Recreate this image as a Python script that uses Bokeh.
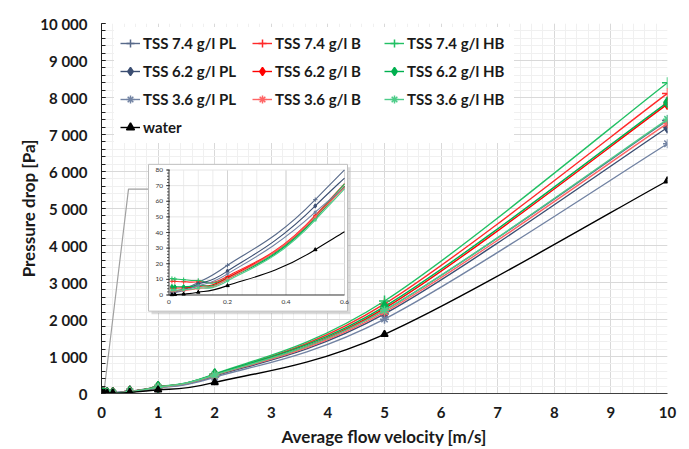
import numpy as np
from bokeh.plotting import figure
from bokeh.models import (ColumnDataSource, Legend, LegendItem, FixedTicker,
                          Range1d)
from bokeh.core.properties import value
from bokeh.embed import file_html
from bokeh.resources import INLINE

# ---------------- data ----------------
velocity = [0.01, 0.02, 0.05, 0.1, 0.2, 0.5, 1, 2, 5, 10]

tss74_pl = [2.0, 2.4, 4.0, 8.0, 19.0, 61.0, 175, 480, 2250, 7380]
tss74_b = [8.8, 8.7, 8.5, 8.5, 12.0, 51.0, 175, 510, 2420, 8110]
tss74_hb = [10.5, 10.2, 9.8, 9.3, 11.0, 50.0, 180, 530, 2500, 8400]
tss62_pl = [1.5, 2.0, 3.3, 7.0, 15.3, 57.0, 165, 470, 2150, 7190]
tss62_b = [4.5, 4.5, 4.6, 5.5, 11.0, 50.0, 170, 500, 2300, 7820]
tss62_hb = [5.4, 5.3, 5.3, 6.0, 10.0, 49.0, 175, 515, 2350, 7870]
tss36_pl = [1.2, 1.6, 2.8, 6.0, 13.5, 53.0, 150, 440, 2010, 6750]
tss36_b = [2.6, 2.7, 3.0, 4.2, 10.0, 50.0, 165, 490, 2200, 7300]
tss36_hb = [3.2, 3.2, 3.4, 4.5, 9.0, 48.0, 170, 500, 2250, 7410]
water = [0.2, 0.3, 0.6, 1.8, 6.0, 29.0, 100, 300, 1600, 5750]

x_ticks = [0, 1, 2, 3, 4, 5, 6, 7, 8, 9, 10]
x_tick_labels = ["0", "1", "2", "3", "4", "5", "6", "7", "8", "9", "10"]
y_ticks = [0, 1000, 2000, 3000, 4000, 5000, 6000, 7000, 8000, 9000, 10000]
y_tick_labels = ["0", "1 000", "2 000", "3 000", "4 000", "5 000",
                 "6 000", "7 000", "8 000", "9 000", "10 000"]
inset_x_ticks = [0, 0.2, 0.4, 0.6]
inset_x_tick_labels = ["0", "0.2", "0.4", "0.6"]
inset_y_ticks = [0, 10, 20, 30, 40, 50, 60, 70, 80]
inset_y_tick_labels = ["0", "10", "20", "30", "40", "50", "60", "70", "80"]

series = [
    ("TSS 7.4 g/l PL", tss74_pl, "#586a8a", "cross", 11),
    ("TSS 7.4 g/l B", tss74_b, "#ff2a2a", "cross", 11),
    ("TSS 7.4 g/l HB", tss74_hb, "#22c064", "cross", 11),
    ("TSS 6.2 g/l PL", tss62_pl, "#3b4e72", "diamond", 11),
    ("TSS 6.2 g/l B", tss62_b, "#ff0000", "diamond", 11),
    ("TSS 6.2 g/l HB", tss62_hb, "#00b050", "diamond", 11),
    ("TSS 3.6 g/l PL", tss36_pl, "#7283a3", "asterisk", 9),
    ("TSS 3.6 g/l B", tss36_b, "#ff6464", "asterisk", 9),
    ("TSS 3.6 g/l HB", tss36_hb, "#4ccc88", "asterisk", 9),
    ("water", water, "#000000", "triangle", 7),
]

FONT = "Lato"

# ---------------- layout constants (screen px) ----------------
W, H = 689, 449
FL, FT, FW, FH = 101, 23, 566, 373
XMAX, YMAX = 10.0, 10000.0


def sx2x(sx):
    return (sx - FL) / FW * XMAX


def sy2y(sy):
    return (FT + FH - sy) / FH * YMAX


PX_X = XMAX / FW
PX_Y = YMAX / FH

# inset geometry (screen)
IN_L, IN_R, IN_B, IN_T = 168.5, 344.0, 296.7, 170.7   # plot area
IN_XMAX, IN_YMAX = 0.6, 80.0
BOX_L, BOX_R, BOX_T, BOX_B = 148, 347, 165, 313


def ix(v):
    return sx2x(IN_L + (np.asarray(v, dtype=float) / IN_XMAX) * (IN_R - IN_L))


def iy(v):
    return sy2y(IN_B - (np.asarray(v, dtype=float) / IN_YMAX) * (IN_B - IN_T))


# ---------------- smoothing helpers ----------------
def bezier_segments(xs, ys, k=1 / 6):
    P = np.column_stack([xs, ys]).astype(float)
    n = len(P)
    segs = []
    for i in range(n - 1):
        p0, p1 = P[i], P[i + 1]
        pm = P[i - 1] if i > 0 else P[i]
        pp = P[i + 2] if i + 2 < n else P[i + 1]
        c0 = p0 + (p1 - pm) * k
        c1 = p1 - (pp - p0) * k
        segs.append((p0, c0, c1, p1))
    return segs


def split_left(seg, t):
    p0, c0, c1, p1 = seg
    a = p0 + (c0 - p0) * t
    b = c0 + (c1 - c0) * t
    c = c1 + (p1 - c1) * t
    d = a + (b - a) * t
    e = b + (c - b) * t
    f = d + (e - d) * t
    return (p0, a, d, f)


def bx(seg, t):
    p0, c0, c1, p1 = seg
    return ((1 - t) ** 3 * p0 + 3 * (1 - t) ** 2 * t * c0 +
            3 * (1 - t) * t ** 2 * c1 + t ** 3 * p1)


def clip_segments(segs, xmax):
    out = []
    for s in segs:
        if s[3][0] <= xmax:
            out.append(s)
        elif s[0][0] < xmax:
            lo, hi = 0.0, 1.0
            for _ in range(50):
                mid = (lo + hi) / 2
                if bx(s, mid)[0] < xmax:
                    lo = mid
                else:
                    hi = mid
            out.append(split_left(s, lo))
            break
        else:
            break
    return out


def seg_source(segs, fx=lambda v: v, fy=lambda v: v):
    d = dict(x0=[], y0=[], cx0=[], cy0=[], cx1=[], cy1=[], x1=[], y1=[])
    for p0, c0, c1, p1 in segs:
        d["x0"].append(float(fx(p0[0]))); d["y0"].append(float(fy(p0[1])))
        d["cx0"].append(float(fx(c0[0]))); d["cy0"].append(float(fy(c0[1])))
        d["cx1"].append(float(fx(c1[0]))); d["cy1"].append(float(fy(c1[1])))
        d["x1"].append(float(fx(p1[0]))); d["y1"].append(float(fy(p1[1])))
    return ColumnDataSource(d)


# ---------------- figure ----------------
p = figure(width=W, height=H, x_range=Range1d(0, XMAX), y_range=Range1d(0, YMAX),
           output_backend="svg", toolbar_location=None,
           min_border_left=FL, min_border_right=W - FL - FW,
           min_border_top=FT, min_border_bottom=H - FT - FH)
p.outline_line_color = None
p.background_fill_color = "white"

x_minor = [round(v, 2) for v in np.arange(0, 10.001, 0.2)]
y_minor = list(range(0, 10001, 200))
p.xaxis.ticker = FixedTicker(ticks=x_ticks, minor_ticks=x_minor)
p.yaxis.ticker = FixedTicker(ticks=y_ticks, minor_ticks=y_minor)
p.xgrid.ticker = FixedTicker(ticks=x_ticks, minor_ticks=x_minor)
p.ygrid.ticker = FixedTicker(ticks=y_ticks, minor_ticks=y_minor)
for g in (p.xgrid, p.ygrid):
    g.grid_line_color = "#d9d9d9"
    g.minor_grid_line_color = "#f0f0f0"
    g.grid_line_width = 1

p.xaxis.major_label_overrides = {t: l for t, l in zip(x_ticks, x_tick_labels)}
p.yaxis.major_label_overrides = {t: l for t, l in zip(y_ticks, y_tick_labels)}

for ax in (p.xaxis, p.yaxis):
    ax.major_label_text_font = FONT
    ax.major_label_text_font_style = "bold"
    ax.major_label_text_font_size = "15px"
    ax.major_label_text_color = "#1a1a1a"
    ax.axis_label_text_font = FONT
    ax.axis_label_text_font_style = "bold"
    ax.axis_label_text_font_size = "17px"
    ax.axis_label_text_color = "#1a1a1a"

p.xaxis.axis_label = "Average flow velocity [m/s]"
p.yaxis.axis_label = "Pressure drop [Pa]"
p.xaxis.axis_line_color = "#404040"
p.xaxis.major_tick_in = 0
p.xaxis.major_tick_out = 0
p.xaxis.minor_tick_in = 0
p.xaxis.minor_tick_out = 0
p.xaxis.major_label_standoff = 13
p.xaxis.axis_label_standoff = 5
p.yaxis.axis_line_color = "#202020"
p.yaxis.major_tick_in = 4
p.yaxis.major_tick_out = 0
p.yaxis.minor_tick_in = 4
p.yaxis.minor_tick_out = 0
p.yaxis.major_tick_line_color = "#202020"
p.yaxis.minor_tick_line_color = "#202020"
p.yaxis.major_label_standoff = 14
p.yaxis.axis_label_standoff = -2

# ---------------- main series ----------------
legend_items = []
for label, vals, color, marker, size in series:
    segs = bezier_segments(velocity, vals)
    p.bezier(x0="x0", y0="y0", x1="x1", y1="y1", cx0="cx0", cy0="cy0",
             cx1="cx1", cy1="cy1", source=seg_source(segs),
             line_color=color, line_width=1.4)
    # single-point line: invisible in the plot, provides the legend line glyph
    lr = p.line(x=[velocity[-1]], y=[vals[-1]], line_color=color, line_width=1.4)
    fill = color if marker in ("diamond", "triangle") else None
    sr = p.scatter(x=velocity, y=vals, marker=marker, size=size,
                   line_color=color, fill_color=fill, line_width=1.5)
    legend_items.append(LegendItem(label=label, renderers=[lr, sr]))

# ---------------- callout line ----------------
p.line(x=[sx2x(104), sx2x(128), sx2x(148)], y=[sy2y(390), sy2y(190), sy2y(190)],
       line_color="#a0a0a0", line_width=1.2)

# ---------------- inset ----------------
p.quad(left=[sx2x(BOX_L + 3)], right=[sx2x(BOX_R + 3)],
       top=[sy2y(BOX_T + 3)], bottom=[sy2y(BOX_B + 3)],
       fill_color="#9a9a9a", fill_alpha=0.35, line_color=None)
p.quad(left=[sx2x(BOX_L)], right=[sx2x(BOX_R)], top=[sy2y(BOX_T)],
       bottom=[sy2y(BOX_B)], fill_color="white", line_color="#bfbfbf",
       line_width=1)

# inset grid
gx_minor = [round(v, 3) for v in np.arange(0.05, 0.6001, 0.05)]
p.segment(x0=ix(gx_minor), x1=ix(gx_minor), y0=[iy(0)] * len(gx_minor),
          y1=[iy(IN_YMAX)] * len(gx_minor), line_color="#ececec", line_width=1)
p.segment(x0=ix(inset_x_ticks[1:]), x1=ix(inset_x_ticks[1:]),
          y0=[iy(0)] * 3, y1=[iy(IN_YMAX)] * 3, line_color="#d4d4d4", line_width=1)
p.segment(x0=[ix(0)] * 8, x1=[ix(IN_XMAX)] * 8, y0=iy(inset_y_ticks[1:]),
          y1=iy(inset_y_ticks[1:]), line_color="#e6e6e6", line_width=1)

# inset axes
p.segment(x0=[ix(0)], x1=[ix(0)], y0=[iy(0)], y1=[iy(IN_YMAX)],
          line_color="#333333", line_width=1)
p.segment(x0=[ix(0)], x1=[ix(IN_XMAX)], y0=[iy(0)], y1=[iy(0)],
          line_color="#333333", line_width=1)
iy_minor = list(range(0, 81, 2))
p.segment(x0=[ix(0) - 2 * PX_X] * len(iy_minor), x1=[ix(0)] * len(iy_minor),
          y0=iy(iy_minor), y1=iy(iy_minor), line_color="#333333", line_width=0.8)
p.segment(x0=[ix(0) - 3 * PX_X] * 9, x1=[ix(0) + 1 * PX_X] * 9,
          y0=iy(inset_y_ticks), y1=iy(inset_y_ticks), line_color="#333333",
          line_width=0.8)
p.text(x=[ix(0) - 6 * PX_X] * 9, y=iy(inset_y_ticks), text=inset_y_tick_labels,
       text_font=value(FONT), text_font_size="6.5px", text_align="right",
       text_baseline="middle", text_color="#333333")
p.text(x=ix(inset_x_ticks), y=[iy(0) - 7 * PX_Y] * 4, text=inset_x_tick_labels,
       text_font=value(FONT), text_font_size="6.5px", text_align="center",
       text_baseline="middle", text_color="#333333")

# inset series
for label, vals, color, marker, size in series:
    segs = clip_segments(bezier_segments(velocity, vals), IN_XMAX)
    p.bezier(x0="x0", y0="y0", x1="x1", y1="y1", cx0="cx0", cy0="cy0",
             cx1="cx1", cy1="cy1", source=seg_source(segs, ix, iy),
             line_color=color, line_width=1.1)
    xs = [v for v in velocity if v <= IN_XMAX]
    ys = vals[:len(xs)]
    fill = color if marker in ("diamond", "triangle") else None
    p.scatter(x=ix(xs), y=iy(ys), marker=marker, size=max(size * 0.4, 3.5),
              line_color=color, fill_color=fill, line_width=1)

# ---------------- legend ----------------
legend = Legend(items=legend_items, location=(13, 250), orientation="horizontal",
                ncols=3)
legend.label_text_font = FONT
legend.label_text_font_style = "bold"
legend.label_text_font_size = "15px"
legend.label_text_color = "#1a1a1a"
legend.glyph_width = 20
legend.glyph_height = 20
legend.label_height = 20
legend.label_width = 101
legend.label_standoff = 3
legend.spacing = 8
legend.padding = 6
legend.margin = 0
legend.border_line_alpha = 0
legend.background_fill_color = "white"
legend.background_fill_alpha = 1
p.add_layout(legend, "center")

open("out.html", "w").write(file_html(p, INLINE))
